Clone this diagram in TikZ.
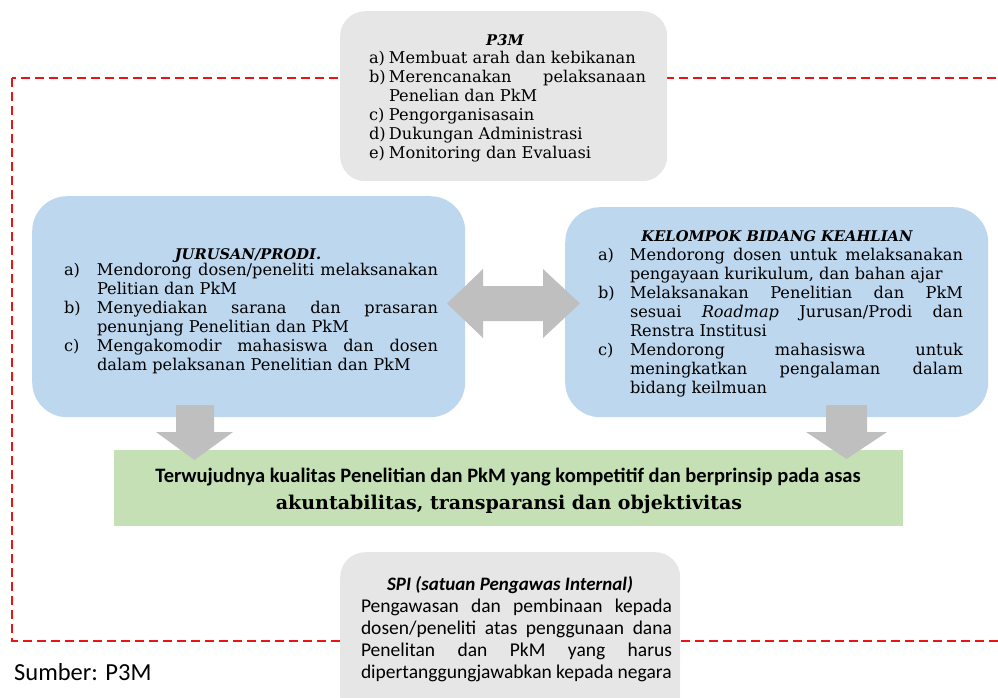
\documentclass[tikz,border=0pt]{standalone}
\usepackage{fontspec}
\setmainfont{DejaVu Serif}
\newfontfamily\calib{Carlito}
\definecolor{boxgray}{RGB}{230,230,230}
\definecolor{boxblue}{RGB}{189,215,238}
\definecolor{boxgreen}{RGB}{197,224,180}
\definecolor{arrowgray}{RGB}{191,191,191}
\definecolor{dashred}{RGB}{235,20,20}
\newlength\itmind
\newcommand\itm[2]{\par\hangindent=\itmind\hangafter=1\noindent\makebox[\itmind][l]{#1}#2}
\newcommand\bodyfont{\fontsize{16.2}{19}\selectfont}
\begin{document}
\begin{tikzpicture}[x=1pt,y=-1pt,
  graybox/.style={fill=boxgray, draw=none, rounded corners=25pt, anchor=north west, inner sep=0pt},
  bluebox/.style={fill=boxblue, draw=none, rounded corners=35pt, anchor=north west, inner sep=0pt},
  greenbox/.style={fill=boxgreen, draw=none, anchor=north west, inner sep=0pt},
  txt/.style={anchor=base west, inner sep=0pt, outer sep=0pt},
  ttl/.style={anchor=base, inner sep=0pt, font=\fontsize{14.7}{19}\selectfont\bfseries\itshape},
  bigarrow/.style={fill=arrowgray, draw=none},
  reddash/.style={draw=dashred, line width=1.8pt, dash pattern=on 9pt off 5pt}]
\useasboundingbox (0,0) rectangle (998,698);
\clip (0,0) rectangle (998,698);
% red dashed frame
\draw[reddash] (12,78) rectangle (1012,641);
% boxes
\node[graybox, minimum width=327pt, minimum height=170pt] (p3m) at (340,11) {};
\node[bluebox, minimum width=433pt, minimum height=221pt] (jur) at (32,196) {};
\node[bluebox, minimum width=423pt, minimum height=210pt] (kbk) at (565,207) {};
\node[greenbox, minimum width=789pt, minimum height=76pt] (goal) at (114,450) {};
\node[graybox, minimum width=340pt, minimum height=170pt] (spi) at (340,552) {};
% P3M text
\node[ttl] (p3mt) at (505,46) {P3M};
\node[txt] (p3mx) at (369,64) {\parbox[t]{277pt}{\setlength\itmind{20pt}\bodyfont
\itm{a)}{Membuat arah dan kebikanan}
\itm{b)}{Merencanakan pelaksanaan\linebreak Penelian dan PkM}
\itm{c)}{Pengorganisasain}
\itm{d)}{Dukungan Administrasi}
\itm{e)}{Monitoring dan Evaluasi}}};
% Jurusan text
\node[ttl] (jurt) at (248,259) {JURUSAN/PRODI.};
\node[txt] (jurx) at (64,275) {\parbox[t]{374pt}{\setlength\itmind{33pt}\bodyfont
\itm{a)}{Mendorong dosen/peneliti melaksanakan\linebreak Pelitian dan PkM}
\itm{b)}{Menyediakan sarana dan prasaran\linebreak penunjang Penelitian dan PkM}
\itm{c)}{Mengakomodir mahasiswa dan dosen\linebreak dalam pelaksanan Penelitian dan PkM}}};
% KBK text
\node[ttl] (kbkt) at (777,241) {KELOMPOK BIDANG KEAHLIAN};
\node[txt] (kbkx) at (598,260) {\parbox[t]{365pt}{\setlength\itmind{32pt}\bodyfont
\itm{a)}{Mendorong dosen untuk melaksanakan\linebreak pengayaan kurikulum, dan bahan ajar}
\itm{b)}{Melaksanakan Penelitian dan PkM\linebreak sesuai \textit{Roadmap} Jurusan/Prodi dan\linebreak Renstra Institusi}
\itm{c)}{Mendorong mahasiswa untuk\linebreak meningkatkan pengalaman dalam\linebreak bidang keilmuan}}};
% double arrow
\fill[bigarrow] (447,303.5) -- (483,269) -- (483,286) -- (543,286) -- (543,269) -- (580,303.5)
  -- (543,338) -- (543,321) -- (483,321) -- (483,338) -- cycle;
% down arrows
\fill[bigarrow] (176,405) -- (214,405) -- (214,432) -- (233,432) -- (194.5,460) -- (156,432) -- (176,432) -- cycle;
\fill[bigarrow] (826,405) -- (867,405) -- (867,432) -- (887,432) -- (846.5,459) -- (806,432) -- (826,432) -- cycle;
% goal text
\node[anchor=base, inner sep=0pt] (g1) at (508,482) {\calib\bfseries\fontsize{20.5}{24}\selectfont Terwujudnya kualitas Penelitian dan PkM yang kompetitif dan berprinsip pada asas};
\node[anchor=base, inner sep=0pt] (g2) at (509,509) {\bfseries\fontsize{19}{22}\selectfont akuntabilitas, transparansi dan objektivitas};
% SPI text
\node[anchor=base, inner sep=0pt] (spit) at (510,590) {\calib\bfseries\itshape\fontsize{19}{22}\selectfont SPI (satuan Pengawas Internal)};
\node[txt] (spix) at (361,612) {\parbox[t]{311pt}{\calib\fontsize{19.5}{22.3}\selectfont
Pengawasan dan pembinaan kepada\linebreak dosen/peneliti atas penggunaan dana\linebreak Penelitan dan PkM yang harus\linebreak dipertanggungjawabkan kepada negara}};
% source
\node[anchor=base west, inner sep=0pt] (src) at (14,680) {\calib\fontsize{24.5}{28}\selectfont Sumber: P3M};
\end{tikzpicture}
\end{document}
